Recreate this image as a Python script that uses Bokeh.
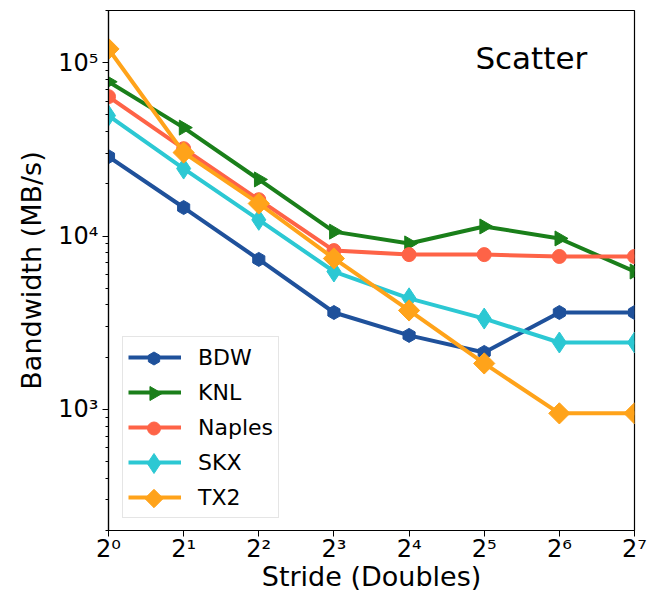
import math
from bokeh.plotting import figure
from bokeh.models import (FixedTicker, Legend, LegendItem, Label, ColumnDataSource,
                          Range1d, LinearScale)
from bokeh.embed import file_html
from bokeh.resources import INLINE

strides = [1, 2, 4, 8, 16, 32, 64, 128]
x_tick_labels = ["2⁰", "2¹", "2²", "2³", "2⁴", "2⁵", "2⁶", "2⁷"]
y_tick_values = [1e3, 1e4, 1e5]
y_tick_labels = ["10³", "10⁴", "10⁵"]

bdw = [28700, 14600, 7330, 3620, 2670, 2130, 3620, 3620]
knl = [77600, 42200, 21200, 10600, 9060, 11350, 9680, 6240]
naples = [63700, 31900, 16200, 8240, 7810, 7810, 7620, 7620]
skx = [49500, 24500, 12400, 6240, 4370, 3340, 2430, 2430]
tx2 = [120000, 30300, 15400, 7420, 3720, 1840, 948, 948]

series_names = ["BDW", "KNL", "Naples", "SKX", "TX2"]
series_values = [bdw, knl, naples, skx, tx2]
colors = ["#1f519b", "#1a7f1a", "#fe6347", "#2cc8d3", "#ffa31a"]
markers = ["hex", "triangle", "circle", "diamond", "square"]
marker_sizes = [14, 15, 14, 21, 15]
legend_marker_sizes = [13, 14, 13, 20, 13]
marker_angles = [math.pi / 2, -math.pi / 2, 0, 0, math.pi / 4]

FONT = "DejaVu Sans"
W, H = 648, 596
BL, BR, BT, BB = 108, 14, 10, 66
FW, FH = W - BL - BR, H - BT - BB

p = figure(width=W, height=H, x_axis_type="log", y_axis_type="log",
           x_range=(1, 128), y_range=(200, 2e5),
           output_backend="svg", toolbar_location=None,
           min_border_left=BL, min_border_right=BR,
           min_border_top=BT, min_border_bottom=BB)
# pixel-space ranges used only to place the legend key markers
p.extra_x_ranges = {"px": Range1d(0, FW)}
p.extra_y_ranges = {"px": Range1d(0, FH)}
p.extra_x_scales = {"px": LinearScale()}
p.extra_y_scales = {"px": LinearScale()}

p.xgrid.visible = False
p.ygrid.visible = False
p.outline_line_color = "black"
p.outline_line_width = 1.2
p.background_fill_color = "white"
p.border_fill_color = "white"

# legend geometry (screen px from frame bottom-left)
LX, LY, PAD, GW, GH, SP = 14, 12, 5, 53, 30, 5
n = len(series_names)
leg_h = 2 * PAD + n * GH + (n - 1) * SP
key_x = LX + PAD + GW / 2

items = []
for i, (name, vals, c, m, s, ls, a) in enumerate(zip(series_names, series_values, colors, markers,
                                                     marker_sizes, legend_marker_sizes, marker_angles)):
    src = ColumnDataSource(dict(x=strides, y=vals))
    ln = p.line("x", "y", source=src, line_color=c, line_width=4)
    p.scatter("x", "y", source=src, marker=m, size=s, angle=a,
              fill_color=c, line_color=c)
    items.append(LegendItem(label=name, renderers=[ln]))
    key_y = LY + leg_h - PAD - GH / 2 - i * (GH + SP)
    key = p.scatter(x=[key_x], y=[key_y], x_range_name="px", y_range_name="px",
                    marker=m, size=ls, angle=a, fill_color=c, line_color=c)
    key.level = "overlay"

legend = Legend(items=items, location=(LX, LY))
legend.label_text_font = FONT
legend.label_text_font_size = "22px"
legend.label_text_color = "black"
legend.label_text_baseline = "middle"
legend.glyph_width = GW
legend.glyph_height = GH
legend.label_height = GH
legend.label_standoff = 17
legend.spacing = SP
legend.padding = PAD
legend.margin = 0
legend.border_line_color = "#cccccc"
legend.border_line_width = 1
legend.background_fill_alpha = 0.0
p.add_layout(legend, "center")

p.add_layout(Label(x=29.5, y=1.06e5, text="Scatter", text_font=FONT,
                   text_font_size="31px", text_baseline="middle", text_color="black"))

p.xaxis.ticker = FixedTicker(ticks=strides, minor_ticks=[])
p.xaxis.major_label_overrides = {v: t for v, t in zip(strides, x_tick_labels)}
minor_y = [m * 10 ** e for e in (2, 3, 4, 5) for m in range(2, 10) if 200 <= m * 10 ** e <= 2e5]
p.yaxis.ticker = FixedTicker(ticks=y_tick_values, minor_ticks=minor_y)
p.yaxis.major_label_overrides = {v: t for v, t in zip(y_tick_values, y_tick_labels)}

for ax in (p.xaxis[0], p.yaxis[0]):
    ax.axis_line_color = "black"
    ax.axis_line_width = 1.2
    ax.major_tick_line_color = "black"
    ax.major_tick_out = 6
    ax.major_tick_in = 0
    ax.minor_tick_line_color = "black"
    ax.minor_tick_out = 3
    ax.minor_tick_in = 0
    ax.major_label_text_font = FONT
    ax.major_label_text_font_size = "24px"
    ax.major_label_text_color = "black"
    ax.axis_label_text_font = FONT
    ax.axis_label_text_font_size = "27px"
    ax.axis_label_text_font_style = "normal"
    ax.axis_label_text_color = "black"

p.xaxis.axis_label = "Stride (Doubles)"
p.yaxis.axis_label = "Bandwidth (MB/s)"
p.xaxis.major_label_standoff = -2
p.xaxis.axis_label_standoff = -5
p.yaxis.major_label_standoff = 4
p.yaxis.axis_label_standoff = 8
p.yaxis.major_label_orientation = "horizontal"

open("out.html", "w").write(file_html(p, INLINE))
